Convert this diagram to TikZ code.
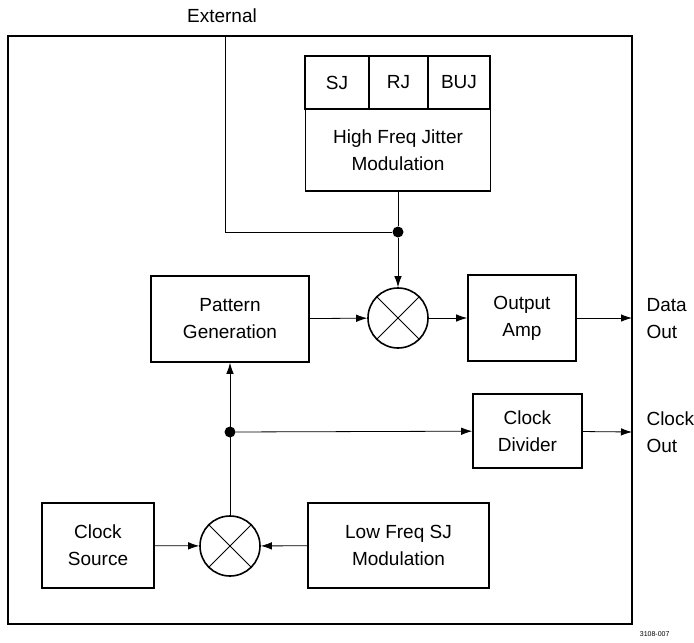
\documentclass[tikz,border=0pt]{standalone}
\usepackage{fontspec}
\setmainfont{Liberation Sans}
\usetikzlibrary{arrows.meta}
\tikzset{
  blk/.style={draw, line width=1.6pt, inner sep=0pt, align=center},
  mixer/.style={draw, circle, line width=1.6pt, minimum size=60pt, inner sep=0pt},
  junc/.style={circle, fill=black, minimum size=11pt, inner sep=0pt},
  sig/.style={line width=0.8pt, -{Latex[length=11pt,width=7.5pt]}},
  wire/.style={line width=0.8pt},
}
\begin{document}
\begin{tikzpicture}[x=1pt,y=-1pt]
                \useasboundingbox (0,0) rectangle (694,643);
                {\fontsize{19}{27}\selectfont

                % Outer frame
                \draw [line width=1.8pt] (8,36) rectangle (632,624);%

                % High freq jitter block
                \node [blk, minimum width=64pt, minimum height=53pt] (sj) at (337,82.5) {SJ};%
                \node [blk, minimum width=59pt, minimum height=53pt] (rj) at (398.5,82.5) {RJ};%
                \node [blk, minimum width=62pt, minimum height=53pt] (buj) at (459,82.5) {BUJ};%
                \node [blk, minimum width=185pt, minimum height=82pt] (hfj) at (398,150) {High Freq Jitter\\Modulation};%

                % Data path
                \node [blk, minimum width=158pt, minimum height=86pt] (pat) at (230,319) {Pattern\\Generation};%
                \node [mixer] (mixa) at (398,318) {};%
                \draw [line width=0.8pt] (mixa.north west) -- (mixa.south east) (mixa.north east) -- (mixa.south west);%
                \node [blk, minimum width=108pt, minimum height=86pt] (amp) at (522,318) {Output\\Amp};%
                \node [blk, minimum width=109pt, minimum height=74pt] (div) at (527.5,431) {Clock\\Divider};%

                % Clock path
                \node [blk, minimum width=112pt, minimum height=85pt] (src) at (98,545.5) {Clock\\Source};%
                \node [mixer] (mixb) at (230,546) {};%
                \draw [line width=0.8pt] (mixb.north west) -- (mixb.south east) (mixb.north east) -- (mixb.south west);%
                \node [blk, minimum width=181pt, minimum height=85pt] (lfsj) at (398.5,545.5) {Low Freq SJ\\Modulation};%

                % Junctions
                \node [junc] (ja) at (398,232) {};%
                \node [junc] (jb) at (230,432) {};%

                % Ports
                \node [anchor=south] (extl) at (222,29) {External};%
                \coordinate (ext) at (225,36);%
                \coordinate (dout) at (632,318);%
                \coordinate (cout) at (632,432);%
                \node [anchor=west, align=left] (doutl) at (640,319) {Data\\Out};%
                \node [anchor=west, align=left] (coutl) at (640,432) {Clock\\Out};%
                \node [anchor=east, font=\fontsize{7}{8}\selectfont] (tag) at (676,634) {3108-007};%

                % Connectors
                \draw [wire] (ext) |- (ja);%
                \draw [wire] (hfj) -- (ja);%
                \draw [sig] (ja) -- (mixa);%
                \draw [sig] (pat) -- (mixa);%
                \draw [sig] (mixa) -- (amp);%
                \draw [sig] (amp) -- (dout);%
                \draw [sig] (src) -- (mixb);%
                \draw [sig] (lfsj) -- (mixb);%
                \draw [sig] (mixb) -- (pat);%
                \draw [sig] (jb) -- (div);%
                \draw [sig] (div) -- (cout);%
                }
\end{tikzpicture}
\end{document}
